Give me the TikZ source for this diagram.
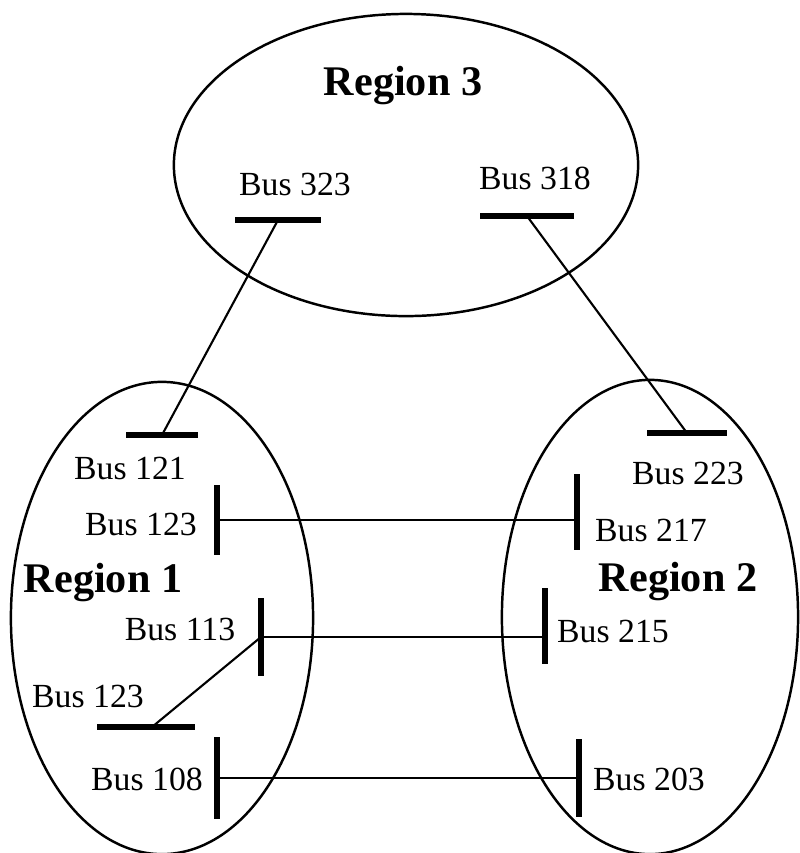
\documentclass[tikz,border=0pt]{standalone}
\usepackage{fontspec}
\setmainfont{Liberation Serif}
\usepackage{tikz}
\usetikzlibrary{shapes.geometric}

\tikzset{
  region/.style={ellipse, draw, line width=0.7pt, inner sep=0pt},
  hbus/.style={rectangle, fill=black, inner sep=0pt, minimum height=1.6pt, minimum width=#1},
  vbus/.style={rectangle, fill=black, inner sep=0pt, minimum width=1.6pt, minimum height=#1},
  link/.style={line width=0.6pt},
  buslabel/.style={inner sep=0pt, font=\fontsize{9.6}{11}\selectfont},
  reglabel/.style={inner sep=0pt, font=\fontsize{12}{14}\selectfont\bfseries}
}

\begin{document}
\begin{tikzpicture}[x=0.01cm, y=-0.01cm]
         \useasboundingbox (0,0) rectangle (800,853);
         % regions
         \node [region, minimum width=4.64cm, minimum height=3.02cm] (r3) at (406,165) {};
         \node [region, minimum width=3.02cm, minimum height=4.72cm] (r1) at (162,618) {};
         \node [region, minimum width=2.96cm, minimum height=4.74cm] (r2) at (650,617) {};
         \node [reglabel] (t3) at (403,86) {Region 3};
         \node [reglabel] (t1) at (103,583) {Region 1};
         \node [reglabel] (t2) at (678,582) {Region 2};
         % buses
         \node [hbus=0.85cm] (b323) at (278,220) {};
         \node [hbus=0.94cm] (b318) at (527,216) {};
         \node [hbus=0.72cm] (b121) at (162,435) {};
         \node [hbus=0.80cm] (b223) at (687,433) {};
         \node [vbus=0.70cm] (b123a) at (217,520) {};
         \node [vbus=0.75cm] (b217) at (577,512) {};
         \node [vbus=0.78cm] (b113) at (261,637) {};
         \node [vbus=0.75cm] (b215) at (545,626) {};
         \node [hbus=0.97cm] (b123b) at (146,727) {};
         \node [vbus=0.82cm] (b108) at (217,778) {};
         \node [vbus=0.77cm] (b203) at (579,778) {};
         % labels
         \node [buslabel] (l323) at (295,184) {Bus 323};
         \node [buslabel] (l318) at (535,178) {Bus 318};
         \node [buslabel] (l121) at (130,468) {Bus 121};
         \node [buslabel] (l223) at (688,473) {Bus 223};
         \node [buslabel] (l123a) at (141,524) {Bus 123};
         \node [buslabel] (l217) at (651,530) {Bus 217};
         \node [buslabel] (l113) at (180,629) {Bus 113};
         \node [buslabel] (l215) at (613,631) {Bus 215};
         \node [buslabel] (l123b) at (88,696) {Bus 123};
         \node [buslabel] (l108) at (147,779) {Bus 108};
         \node [buslabel] (l203) at (649,779) {Bus 203};
         % tie lines
         \draw [link] (b323.center) -- (b121.center);
         \draw [link] (b318.center) -- (b223.center);
         \draw [link] (b123a.center) -- (b123a.center -| b217.center);
         \draw [link] (b113.center) -- (b113.center -| b215.center);
         \draw [link] (b108.center) -- (b108.center -| b203.center);
         \draw [link] ([xshift=0.06cm]b123b.center) -- (b113.center);
\end{tikzpicture}
\end{document}
